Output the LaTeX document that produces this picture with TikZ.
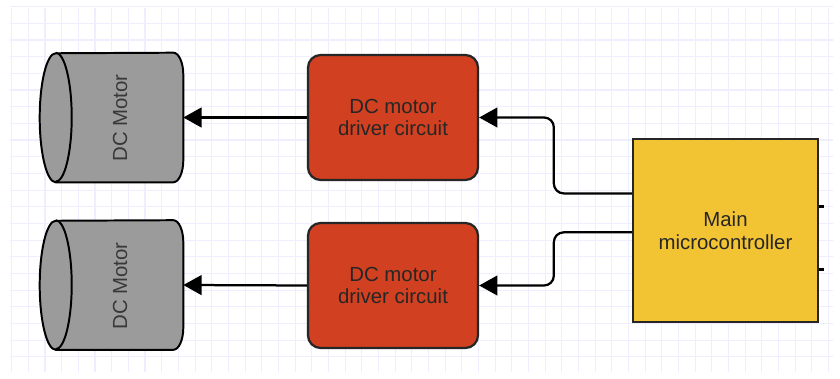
\documentclass[tikz,border=0pt]{standalone}
\usepackage{fontspec}
\setmainfont{Liberation Sans}
\usepackage{tikz}
\usetikzlibrary{arrows.meta,positioning,calc}
\definecolor{drvred}{RGB}{208,64,33}
\definecolor{mcuyellow}{RGB}{242,195,51}
\definecolor{motorgray}{RGB}{155,155,155}
\definecolor{gridminor}{RGB}{238,238,255}

% cylinder lying on its side, drawn round a named empty node
\newcommand{\drawmotor}[1]{%
  \filldraw[fill=motorgray, draw=black, line width=1.4pt]
    ([xshift=-0.25cm]#1.north east)
    arc[start angle=90, end angle=0, x radius=0.25cm, y radius=0.55cm]
    -- ([yshift=0.55cm]#1.south east)
    arc[start angle=0, end angle=-90, x radius=0.25cm, y radius=0.55cm]
    -- ([xshift=0.4cm]#1.south west)
    arc[start angle=-90, end angle=-270, x radius=0.4cm, y radius=1.6125cm]
    -- cycle;
  \draw[black, line width=1.4pt] ([xshift=0.4cm]#1.north west)
    arc[start angle=90, end angle=-90, x radius=0.4cm, y radius=1.6125cm];
}

\begin{document}
\begin{tikzpicture}[x=0.025cm, y=-0.025cm,
  block/.style={draw=black!85, line width=1.6pt, align=center,
    font=\fontsize{14.5}{16}\selectfont, text=black!85},
  motorbox/.style={minimum width=3.575cm, minimum height=3.225cm, inner sep=0pt},
  link/.style={line width=1.6pt, rounded corners=7pt,
    -{Triangle[length=13pt,width=14pt]}}]
\useasboundingbox (0,0) rectangle (840,379);
\fill[white] (0,0) rectangle (840,379);

% grid
\foreach \i in {0,...,49}
  \draw[gridminor, line width=0.8pt] (11.7+\i*16.67,8) -- (11.7+\i*16.67,372);
\foreach \j in {0,...,21}
  \draw[gridminor, line width=0.8pt] (10,6.7+\j*16.67) -- (833,6.7+\j*16.67);

\node[motorbox] (motorA) at (111.5,117.5) {};
\node[motorbox] (motorB) at (111.5,285) {};
\drawmotor{motorA}
\drawmotor{motorB}
\node[rotate=90, font=\fontsize{14.5}{16}\selectfont, text=black!78]
  at (120,118) {DC Motor};
\node[rotate=90, font=\fontsize{14.5}{16}\selectfont, text=black!78]
  at (120,286) {DC Motor};

\node[block, fill=drvred, rounded corners=9pt, minimum width=4.25cm,
  minimum height=3.125cm] (drvA) at (393,117.5) {DC motor\\driver circuit};
\node[block, fill=drvred, rounded corners=9pt, minimum width=4.25cm,
  minimum height=3.125cm] (drvB) at (393,285.5) {DC motor\\driver circuit};

\node[block, fill=mcuyellow, minimum width=4.625cm, minimum height=4.575cm]
  (micro) at (725.5,230.5) {Main\\microcontroller};

\coordinate (mcA) at ($(micro.north west)!0.3!(micro.south west)$);
\coordinate (mcB) at ($(micro.north west)!0.51!(micro.south west)$);

\draw[link] (drvA.west) -- (motorA.east);
\draw[link] (drvB.west) -- (motorB.east);
\draw[link] (mcA) -- ++(-78,0) |- (drvA.east);
\draw[link] (mcB) -- ++(-78,0) |- (drvB.east);

% stubs on the right
\draw[line width=1.6pt] ($(micro.north east)!0.37!(micro.south east)$) -- ++(5,0);
\draw[line width=1.6pt] ($(micro.north east)!0.71!(micro.south east)$) -- ++(5,0);
\end{tikzpicture}
\end{document}
